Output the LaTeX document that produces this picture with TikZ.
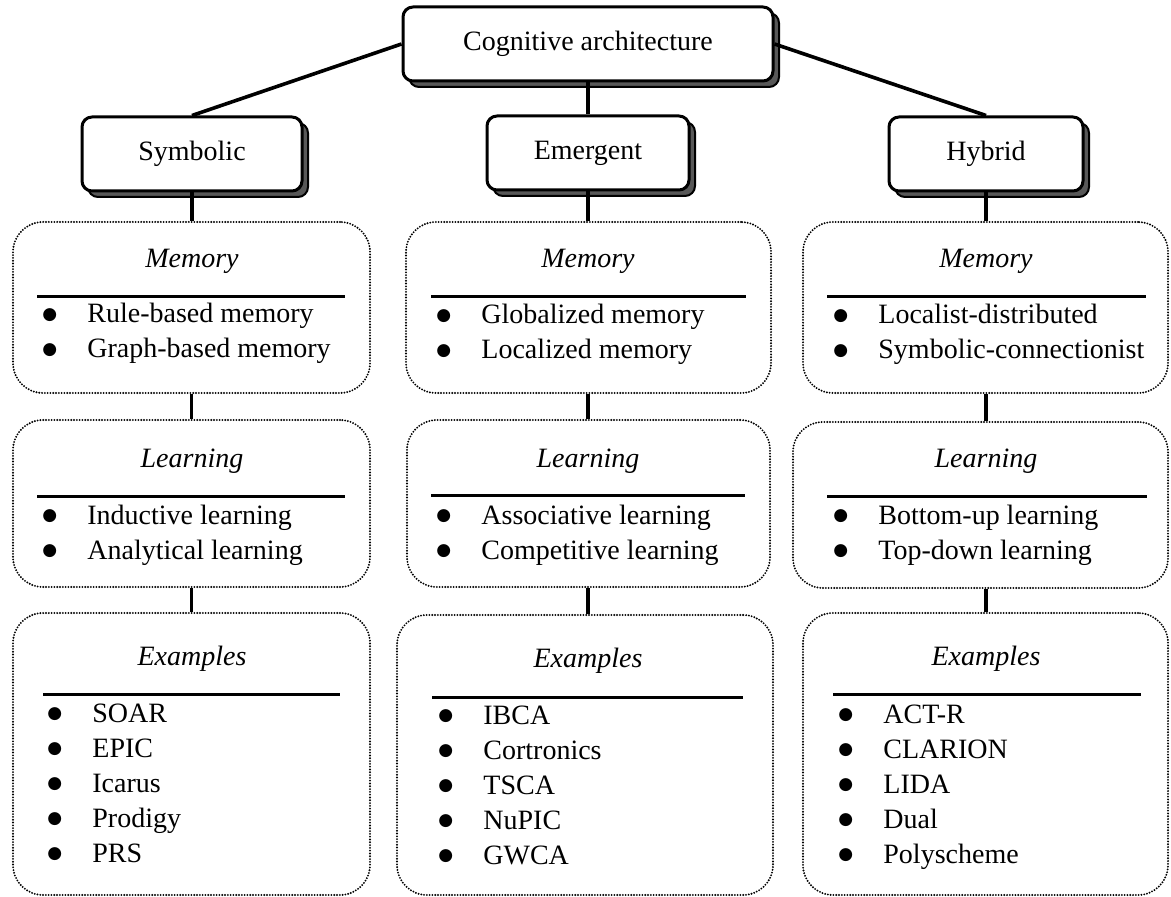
\documentclass[tikz,border=0pt]{standalone}
\usepackage{fontspec}
\setmainfont{Liberation Serif}
\newfontfamily\symfont{DejaVu Sans}
\usetikzlibrary{shadows}
\definecolor{shadowgray}{RGB}{88,88,88}
% bullet item with a fixed indent before the text
\newcommand\bigbullet{\raisebox{1.6pt}{\symfont\fontsize{8.5}{8.5}\selectfont ●}}
\newcommand\itm[1]{\makebox[22.5pt][l]{\bigbullet}#1}
\newcommand\itemlist[1]{\begin{tabular}[t]{@{}l@{}}#1\end{tabular}}

\begin{document}
\begin{tikzpicture}[x=0.5pt,y=-0.5pt,
  txt/.style={font=\fontsize{14}{17.5}\selectfont},
  catbox/.style={draw, line width=1.5pt, rounded corners=5pt, fill=white, txt,
    text height=9.5pt, text depth=3.2pt, minimum height=37pt, inner sep=0pt,
    general shadow={shadow xshift=3pt, shadow yshift=-3pt, fill=shadowgray,
      draw=black, line width=1pt}},
  groupbox/.style={draw, line width=1.05pt, dash pattern=on 0pt off 1.4pt,
    line cap=round, rounded corners=15pt, inner sep=0pt},
  link/.style={line width=1.8pt},
  sepline/.style={line width=1.5pt},
  heading/.style={font=\fontsize{14}{17.5}\selectfont\itshape, anchor=base, inner sep=0pt},
  items/.style={txt, anchor=base west, inner sep=0pt},
]
\useasboundingbox (0,0) rectangle (1171,897);

% category boxes
\node[catbox, minimum width=185pt] (top) at (588,44) {Cognitive architecture};
\node[catbox, minimum width=110pt] (sym) at (192,154) {Symbolic};
\node[catbox, minimum width=101pt] (emg) at (588,153) {Emergent};
\node[catbox, minimum width=97pt]  (hyb) at (986,154) {Hybrid};

% dotted group boxes
\node[groupbox, minimum width=178.5pt, minimum height=85.5pt] (mem1) at (191.5,307.5) {};
\node[groupbox, minimum width=178.5pt, minimum height=83.5pt] (lrn1) at (191.5,503.5) {};
\node[groupbox, minimum width=178.5pt, minimum height=141pt]  (ex1)  at (191.5,754) {};

\node[groupbox, minimum width=182.5pt, minimum height=85.5pt] (mem2) at (588.5,307.5) {};
\node[groupbox, minimum width=181.5pt, minimum height=83.5pt] (lrn2) at (588.5,503.5) {};
\node[groupbox, minimum width=188pt,   minimum height=140pt]  (ex2)  at (585,755) {};

\node[groupbox, minimum width=182.5pt, minimum height=85.5pt] (mem3) at (985.5,307.5) {};
\node[groupbox, minimum width=187.5pt, minimum height=83pt]   (lrn3) at (980.5,505) {};
\node[groupbox, minimum width=182.5pt, minimum height=141pt]  (ex3)  at (985.5,754) {};

% connectors
\draw[link] (top.west) -- (sym.north);
\draw[link] (top.south) -- (emg.north);
\draw[link] (top.east) -- (hyb.north);

\draw[link] (sym.south) -- (sym.south |- mem1.north);
\draw[link] (mem1.south) -- (mem1.south |- lrn1.north);
\draw[link] (mem1.south |- lrn1.south) -- (mem1.south |- ex1.north);

\draw[link] (emg.south) -- (emg.south |- mem2.north);
\draw[link] (emg.south |- mem2.south) -- (emg.south |- lrn2.north);
\draw[link] (emg.south |- lrn2.south) -- (emg.south |- ex2.north);

\draw[link] (hyb.south) -- (hyb.south |- mem3.north);
\draw[link] (hyb.south |- mem3.south) -- (hyb.south |- lrn3.north);
\draw[link] (hyb.south |- lrn3.south) -- (hyb.south |- ex3.north);

% Symbolic column
\node[heading] (mh1) at (192,268) {Memory};
\draw[sepline] (37,297) -- (345,297);
\node[items] (ml1) at (42,323) {\itemlist{\itm{Rule-based memory}\\ \itm{Graph-based memory}}};
\node[heading] (lh1) at (192,467) {Learning};
\draw[sepline] (37,496) -- (345,496);
\node[items] (ll1) at (42,524) {\itemlist{\itm{Inductive learning}\\ \itm{Analytical learning}}};
\node[heading] (eh1) at (192,665) {Examples};
\draw[sepline] (43,694) -- (340,694);
\node[items] (el1) at (47,722) {\itemlist{\itm{SOAR}\\ \itm{EPIC}\\ \itm{Icarus}\\ \itm{Prodigy}\\ \itm{PRS}}};

% Emergent column
\node[heading] (mh2) at (588,268) {Memory};
\draw[sepline] (431,297) -- (746,297);
\node[items] (ml2) at (436,324) {\itemlist{\itm{Globalized memory}\\ \itm{Localized memory}}};
\node[heading] (lh2) at (588,467) {Learning};
\draw[sepline] (431,495) -- (745,495);
\node[items] (ll2) at (436,524) {\itemlist{\itm{Associative learning}\\ \itm{Competitive learning}}};
\node[heading] (eh2) at (588,667) {Examples};
\draw[sepline] (432,697) -- (743,697);
\node[items] (el2) at (438,724) {\itemlist{\itm{IBCA}\\ \itm{Cortronics}\\ \itm{TSCA}\\ \itm{NuPIC}\\ \itm{GWCA}}};

% Hybrid column
\node[heading] (mh3) at (986,268) {Memory};
\draw[sepline] (827,297) -- (1146,297);
\node[items] (ml3) at (833,324) {\itemlist{\itm{Localist-distributed}\\ \itm{Symbolic-connectionist}}};
\node[heading] (lh3) at (986,467) {Learning};
\draw[sepline] (827,496) -- (1147,496);
\node[items] (ll3) at (833,524) {\itemlist{\itm{Bottom-up learning}\\ \itm{Top-down learning}}};
\node[heading] (eh3) at (986,665) {Examples};
\draw[sepline] (833,694) -- (1141,694);
\node[items] (el3) at (838,723) {\itemlist{\itm{ACT-R}\\ \itm{CLARION}\\ \itm{LIDA}\\ \itm{Dual}\\ \itm{Polyscheme}}};
\end{tikzpicture}
\end{document}
